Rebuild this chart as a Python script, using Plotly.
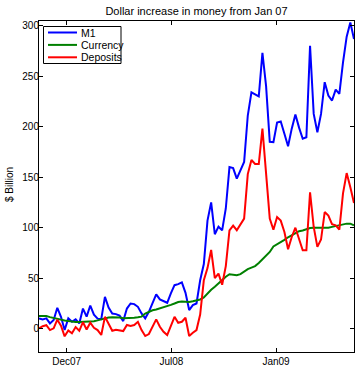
import pandas as pd
import plotly.graph_objects as go

# Weekly change in money stock since Jan 2007, $ billion
weeks = pd.date_range("2007-11-01", periods=87, freq="7D")

m1 = [10.3, 9.3, 10.3, 5.3, 8.6, 20.7, 11.8, -1.3, 10.3, 6.9,
      9.3, 5.3, 20, 12, 23, 14, 10, 9.5, 31.6, 21,
      15, 14.5, 13, 7.6, 20, 25, 24.4, 21.7, 15.2, 10.3,
      16.8, 26, 34, 29, 27.3, 25.7, 35, 43.1, 44.1, 45.8,
      35.5, 18.5, 23.4, 25, 48, 64, 107, 125, 93.5, 101,
      97.4, 119, 160, 159, 148.5, 156.5, 165, 211, 234, 232,
      230, 273, 240, 185, 184.6, 204, 205, 193, 180.6, 198,
      212, 199, 188, 189.5, 280, 212.6, 194.5, 212.6, 244, 230.7,
      225.8, 236.6, 232.4, 263.6, 289, 303, 286.7]

currency = [12.5, 12.6, 12.5, 11.5, 10.5, 9.5, 9, 8.2, 7.6, 7,
            6.8, 6.7, 6.8, 7, 7.2, 7.5, 8.3, 9.5, 10.5, 11.2,
            11.3, 11.3, 11.2, 10.5, 10.4, 10.7, 10.9, 11.3, 12, 15,
            17, 18.3, 19, 20, 21.5, 22.5, 23.6, 25, 26.5, 27,
            26.5, 26.5, 27.2, 27.8, 29, 31, 35, 38.5, 41.5, 45,
            49, 51.5, 54, 53.5, 53, 54, 56.5, 59, 60.5, 62,
            65, 69, 72, 76, 81.5, 83.5, 86, 88, 90.5, 92.5,
            95, 96.5, 97.3, 98.5, 99.7, 100, 100, 99.8, 99.7, 100,
            100.8, 101.5, 102.3, 103.4, 104, 104, 102.4]

deposits = [0.4, 2.5, 3.5, -1.3, 0.4, 9, 3, -7.5, -1.6, -4.5,
            1.7, -2, 6.5, -0.8, 6, 1, -1.3, -6.2, 11.8, 4.5,
            -2, -1, -1.5, -2.3, 3.7, 2.7, 3.7, 6.9, -1.3, -7.2,
            -5.2, 2, 9.3, 2, -3, -6.2, 3, 11.8, 5.9, 6.9,
            10.9, -7.2, -4, -1.3, 14, 48, 60, 78, 50, 54.5,
            43.5, 62, 97.4, 102, 97.5, 103, 109, 153, 167, 163,
            163, 198, 155, 109, 98, 110.5, 107, 95.8, 78.7, 90.8,
            100, 89.2, 77.7, 77.7, 135, 100.7, 81, 88.3, 115.5, 112,
            103.4, 102.4, 98, 134, 154, 140, 124.4]

series_names = ["M1", "Currency", "Deposits"]
series_colors = ["#0000ff", "#008000", "#ff0000"]

x_tick_dates = ["2007-12-24", "2008-07-11", "2009-01-27"]
x_tick_labels = ["Dec07", "Jul08", "Jan09"]
y_ticks = [0, 50, 100, 150, 200, 250, 300]

FONT = "Liberation Sans, Arial, Helvetica, sans-serif"

fig = go.Figure()
for name, vals, col in zip(series_names, [m1, currency, deposits], series_colors):
    fig.add_trace(go.Scatter(x=weeks, y=vals, mode="lines", name=name,
                             line=dict(color=col, width=2), showlegend=False))

W, H = 355, 366
ml, mr, mt, mb = 39, 1, 21, 14
pw, ph = W - ml - mr, H - mt - mb


def px_x(p):
    return (p - ml) / pw


def px_y(p):
    return (H - mb - p) / ph


# Boxed legend in the upper-left corner
shapes = [dict(type="rect", xref="paper", yref="paper",
               x0=px_x(43.5), x1=px_x(121), y0=px_y(63.5), y1=px_y(26.5),
               line=dict(color="black", width=1), fillcolor="white", layer="above")]
annotations = []
for k, (name, col) in enumerate(zip(series_names, series_colors)):
    yy = 32.5 + k * 12.4
    shapes.append(dict(type="line", xref="paper", yref="paper",
                       x0=px_x(48), x1=px_x(77), y0=px_y(yy), y1=px_y(yy),
                       line=dict(color=col, width=2), layer="above"))
    annotations.append(dict(xref="paper", yref="paper", x=px_x(79), y=px_y(yy),
                            text=name, showarrow=False, xanchor="left", yanchor="middle",
                            font=dict(family=FONT, size=10.5, color="black")))

annotations.append(dict(xref="paper", yref="paper", x=px_x(9), y=px_y(185),
                        text="$ Billion", textangle=-90, showarrow=False,
                        xanchor="center", yanchor="middle",
                        font=dict(family=FONT, size=10, color="black")))

fig.update_layout(
    width=W, height=H,
    margin=dict(l=ml, r=mr, t=mt, b=mb, autoexpand=False),
    paper_bgcolor="white", plot_bgcolor="white",
    title=dict(text="Dollar increase in money from Jan 07", x=(ml + pw / 2) / W,
               xanchor="center", y=1 - 11 / H, yanchor="middle",
               font=dict(family=FONT, size=11, color="black")),
    font=dict(family=FONT, size=10, color="black"),
    shapes=shapes, annotations=annotations,
)
fig.update_xaxes(range=[weeks[0], weeks[-1]], tickvals=pd.to_datetime(x_tick_dates),
                 ticktext=x_tick_labels, ticks="inside", ticklen=4, tickcolor="black",
                 showline=True, linecolor="black", linewidth=1, mirror="ticks",
                 showgrid=False, zeroline=False, tickfont=dict(size=10))
fig.update_yaxes(range=[-23, 304.5], tickvals=y_ticks, ticks="inside", ticklen=4,
                 tickcolor="black", showline=True, linecolor="black", linewidth=1,
                 mirror="ticks", showgrid=False, zeroline=False, tickfont=dict(size=10),
                 ticklabelstandoff=-3)

fig.write_html("out.html")
